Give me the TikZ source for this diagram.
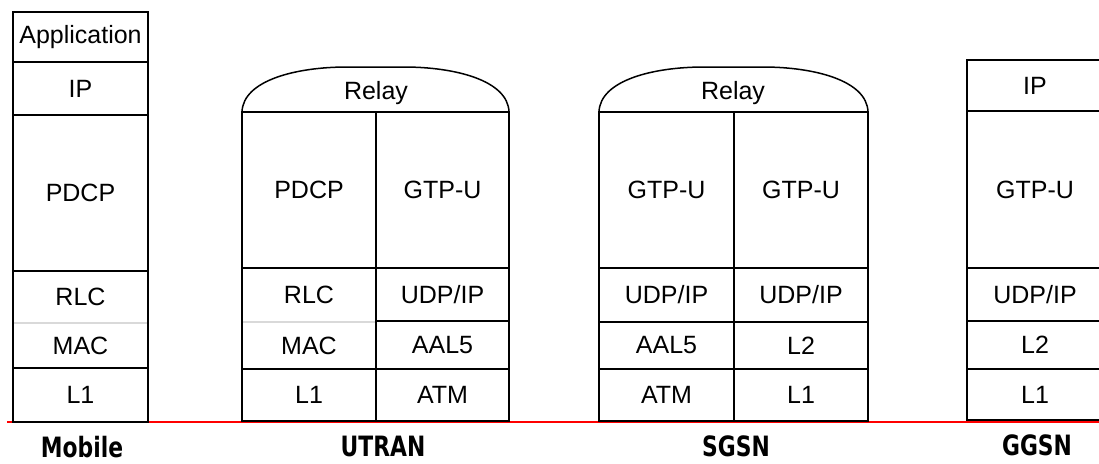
\documentclass[tikz,border=0pt]{standalone}
\usepackage{fontspec}
\setmainfont{Liberation Sans}
\newfontfamily\boldlabel[FakeStretch=0.78]{DejaVu Sans}
\usepackage{tikz}
\usetikzlibrary{positioning}
\tikzset{
  layer/.style={
    draw,
    line width=1.8pt,
    inner sep=0pt,
    outer sep=0pt,
    font=\fontsize{25}{30}\selectfont
  },
  relayline/.style={line width=1.5pt},
  faint/.style={line width=1.8pt, gray!30},
  stackname/.style={font=\boldlabel\bfseries\fontsize{28}{32}\selectfont}
}

\begin{document}
\begin{tikzpicture}[x=1pt,y=-1pt]
        \useasboundingbox (0,0) rectangle (1099,463);
        \clip (0,0) rectangle (1099,463);
        \draw [red, line width=1.5pt] (7,422) -- (1099,422);

        % Mobile
        \node [layer, anchor=north west, minimum width=135pt, minimum height=50pt] (mapp) at (13,12) {Application};
        \node [layer, below=0pt of mapp, minimum width=135pt, minimum height=53pt] (mip) {IP};
        \node [layer, below=0pt of mip, minimum width=135pt, minimum height=156pt] (mpdcp) {PDCP};
        \node [layer, below=0pt of mpdcp, minimum width=135pt, minimum height=52pt] (mrlc) {RLC};
        \node [layer, below=0pt of mrlc, minimum width=135pt, minimum height=45pt] (mmac) {MAC};
        \node [layer, below=0pt of mmac, minimum width=135pt, minimum height=54pt] (ml1) {L1};
        \draw [faint] ([xshift=1pt]mrlc.south west) -- ([xshift=-1pt]mrlc.south east);
        \node [stackname] (mlabel) at (82,447) {Mobile};

        % UTRAN
        \node [layer, anchor=north west, minimum width=134pt, minimum height=156pt] (updcp) at (242,112) {PDCP};
        \node [layer, right=0pt of updcp, minimum width=133pt, minimum height=156pt] (ugtp) {GTP-U};
        \node [layer, below=0pt of updcp, minimum width=134pt, minimum height=54pt] (urlc) {RLC};
        \node [layer, below=0pt of urlc, minimum width=134pt, minimum height=47pt] (umac) {MAC};
        \node [layer, below=0pt of umac, minimum width=134pt, minimum height=52pt] (ul1) {L1};
        \node [layer, below=0pt of ugtp, minimum width=133pt, minimum height=53pt] (uudp) {UDP/IP};
        \node [layer, below=0pt of uudp, minimum width=133pt, minimum height=48pt] (uaal) {AAL5};
        \node [layer, below=0pt of uaal, minimum width=133pt, minimum height=52pt] (uatm) {ATM};
        \draw [faint] ([xshift=1pt]urlc.south west) -- ([xshift=-1pt]urlc.south east);
        \draw [relayline] (updcp.north west) .. controls +(1,-32) and +(-50,0) .. ([xshift=105pt,yshift=45pt]updcp.north west)
          -- ([xshift=-105pt,yshift=45pt]ugtp.north east) .. controls +(50,0) and +(-1,-32) .. (ugtp.north east);
        \node [font=\fontsize{25}{30}\selectfont, anchor=base] (urelay) at (376,99) {Relay};
        \node [stackname] (ulabel) at (383,446) {UTRAN};

        % SGSN
        \node [layer, anchor=north west, minimum width=135pt, minimum height=156pt] (sgtpa) at (599,112) {GTP-U};
        \node [layer, right=0pt of sgtpa, minimum width=134pt, minimum height=156pt] (sgtpb) {GTP-U};
        \node [layer, below=0pt of sgtpa, minimum width=135pt, minimum height=54pt] (sudpa) {UDP/IP};
        \node [layer, below=0pt of sudpa, minimum width=135pt, minimum height=47pt] (saal) {AAL5};
        \node [layer, below=0pt of saal, minimum width=135pt, minimum height=52pt] (satm) {ATM};
        \node [layer, below=0pt of sgtpb, minimum width=134pt, minimum height=54pt] (sudpb) {UDP/IP};
        \node [layer, below=0pt of sudpb, minimum width=134pt, minimum height=47pt] (sltwo) {L2};
        \node [layer, below=0pt of sltwo, minimum width=134pt, minimum height=52pt] (slone) {L1};
        \draw [relayline] (sgtpa.north west) .. controls +(1,-32) and +(-50,0) .. ([xshift=105pt,yshift=45pt]sgtpa.north west)
          -- ([xshift=-105pt,yshift=45pt]sgtpb.north east) .. controls +(50,0) and +(-1,-32) .. (sgtpb.north east);
        \node [font=\fontsize{25}{30}\selectfont, anchor=base] (srelay) at (733,99) {Relay};
        \node [stackname] (slabel) at (736,446) {SGSN};

        % GGSN
        \node [layer, anchor=north west, minimum width=136pt, minimum height=51pt] (gip) at (967,60) {IP};
        \node [layer, below=0pt of gip, minimum width=136pt, minimum height=157pt] (ggtp) {GTP-U};
        \node [layer, below=0pt of ggtp, minimum width=136pt, minimum height=53pt] (gudp) {UDP/IP};
        \node [layer, below=0pt of gudp, minimum width=136pt, minimum height=48pt] (gltwo) {L2};
        \node [layer, below=0pt of gltwo, minimum width=136pt, minimum height=51pt] (glone) {L1};
        \node [stackname] (glabel) at (1037,445) {GGSN};
      \end{tikzpicture}
\end{document}
